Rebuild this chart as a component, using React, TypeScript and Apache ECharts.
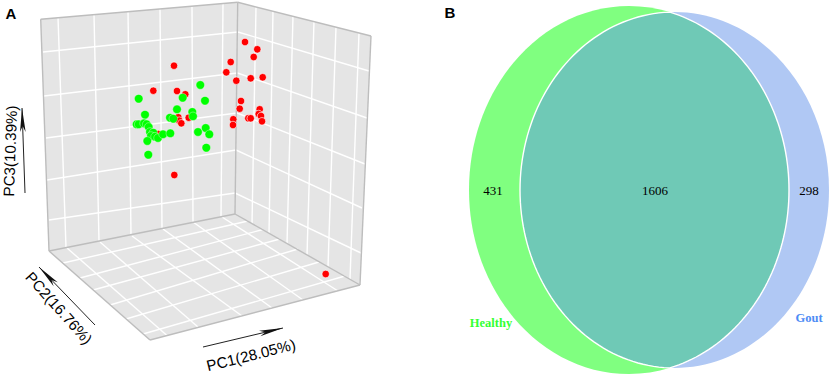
import React, { useEffect, useRef } from "react";
import * as echarts from "echarts";

const WIDTH = 831;
const HEIGHT = 375;

// Panel A: points, in page-plane units
const redPoints = [
  [174, 65.7], [153.3, 90.7], [177, 91], [185.3, 94.3], [178.3, 117.3], [179.3, 120.7], [181.3, 123.3],
  [188.7, 117.7], [174.3, 175], [158.3, 134], [245, 42], [257.3, 49.3], [253.7, 57], [230.7, 62],
  [226.3, 72.3], [236.3, 80.7], [250.7, 78.3], [262.7, 77.3], [241, 101], [239.7, 108.7], [259.7, 109.3],
  [258.7, 114], [261, 116], [262, 121.3], [248.3, 118.3], [250.7, 118.3], [233.3, 119.3], [233, 125],
  [325.7, 274],
];
const greenPoints = [
  [200.3, 85], [138.7, 98.7], [182.7, 97.7], [205, 100.7], [177, 109.3], [145, 114.7], [192.3, 112],
  [193, 116.3], [170, 117.7], [173.3, 118.7], [136.7, 124.3], [138.7, 124.3], [144, 123.3], [146.7, 124.3],
  [148.7, 127], [150, 132], [153.3, 132.7], [151, 136], [155, 136.7], [158, 138], [163, 134.3], [170.3, 133.3],
  [147.3, 141], [148.3, 154.7], [198, 132], [205.7, 128], [209.3, 134.3], [206.3, 147.7],
];

// Panel A: box walls and lattice
const wallPanels = [
  [[40.7, 19.3], [237.7, 2.3], [235, 214], [49, 251]],
  [[237.7, 2.3], [371, 36], [360, 285], [235, 214]],
  [[49, 251], [235, 214], [360, 285], [150, 340]],
];
const latticeLines = [
  // left wall, uprights
  [58, 17.6, 66, 247.6], [94, 14.5, 99, 241], [128, 11.6, 131, 234.7], [160, 8.9, 162, 228.5], [192, 6.2, 193, 222.4], [223, 3.6, 221, 216.8],
  // left wall, rows
  [43, 52, 238, 32], [44, 96, 237.5, 73], [46, 138, 237, 113], [47, 180, 236, 150], [49, 220, 235, 193],
  // right wall, uprights
  [256, 7, 252, 224], [273, 11, 269, 233], [293, 16, 287, 243.5], [314, 21, 307, 255], [336, 27, 328, 267], [359, 33, 350, 279],
  // right wall, rows
  [238, 32, 369, 71], [237.5, 73, 367, 118], [237, 113, 365, 164], [236, 150, 362, 208], [235, 193, 361, 253],
  // floor, toward the front edge
  [67, 248, 167, 335.5], [100, 242, 198, 327], [132, 236, 242, 316], [163, 229, 272, 308], [193, 222, 303, 300], [222, 217, 338, 291],
  // floor, across
  [63, 263, 248, 221], [80, 278, 263, 229.5], [93, 290, 280, 239], [110, 305, 298, 249], [126, 319, 319, 262], [143, 334, 345, 276],
];
const boxEdges = [
  [40.7, 19.3, 237.7, 2.3], [237.7, 2.3, 371, 36], [40.7, 19.3, 49, 251], [237.7, 2.3, 235, 214], [371, 36, 360, 285],
  [49, 251, 235, 214], [235, 214, 360, 285], [49, 251, 150, 340], [150, 340, 360, 285],
];
const axisArrows = [
  [25, 193, 22, 108],
  [95, 325, 39, 267],
  [203, 347, 283, 328],
];
const axisTitles = ["PC1(28.05%)", "PC2(16.76%)", "PC3(10.39%)"];

// Panel B
const vennCounts = [431, 1606, 298];
const vennNames = ["Healthy", "Gout"];
const healthyEllipse = { cx: 629, cy: 190, rx: 160, ry: 184 };
const goutEllipse = { cx: 674.5, cy: 190, rx: 154.5, ry: 178 };

function lensPoints() {
  const tipDy = 177.9;
  const pts: number[][] = [];
  const a0 = Math.asin(tipDy / healthyEllipse.ry);
  const b0 = Math.asin(tipDy / goutEllipse.ry);
  const N = 90;
  for (let i = 0; i <= N; i++) {
    const t = -a0 + (2 * a0 * i) / N;
    pts.push([healthyEllipse.cx + healthyEllipse.rx * Math.cos(t), healthyEllipse.cy + healthyEllipse.ry * Math.sin(t)]);
  }
  for (let i = 1; i < N; i++) {
    const t = Math.PI - b0 + (2 * b0 * i) / N;
    pts.push([goutEllipse.cx + goutEllipse.rx * Math.cos(t), goutEllipse.cy + goutEllipse.ry * Math.sin(t)]);
  }
  return pts;
}

function segmentSeries(name: string, rows: number[][], color: string, width: number, z: number) {
  return {
    type: "custom",
    name,
    silent: true,
    z,
    coordinateSystem: "cartesian2d",
    data: rows,
    renderItem: (_: any, api: any) => {
      const a = api.coord([api.value(0), api.value(1)]);
      const b = api.coord([api.value(2), api.value(3)]);
      return { type: "line", shape: { x1: a[0], y1: a[1], x2: b[0], y2: b[1] }, style: { stroke: color, lineWidth: width } };
    },
  };
}

function polygonSeries(name: string, polys: number[][][], fills: string[], strokes: (string | null)[], lineWidth: number, z: number) {
  return {
    type: "custom",
    name,
    silent: true,
    z,
    coordinateSystem: "cartesian2d",
    data: polys.map((_, i) => [i, 0]),
    renderItem: (params: any, api: any) => {
      const i = params.dataIndex;
      return {
        type: "polygon",
        shape: { points: polys[i].map((p) => api.coord(p)) },
        style: { fill: fills[i], stroke: strokes[i] || undefined, lineWidth },
      };
    },
  };
}

function ellipseSeries(name: string, e: typeof healthyEllipse, fill: string, z: number) {
  return {
    type: "custom",
    name,
    silent: true,
    z,
    coordinateSystem: "cartesian2d",
    data: [[e.cx, e.cy]],
    renderItem: (_: any, api: any) => {
      const c = api.coord([api.value(0), api.value(1)]);
      return { type: "ellipse", shape: { cx: c[0], cy: c[1], rx: e.rx, ry: e.ry }, style: { fill } };
    },
  };
}

function arrowSeries() {
  return {
    type: "custom",
    name: "axis arrows",
    silent: true,
    z: 4,
    coordinateSystem: "cartesian2d",
    data: axisArrows,
    renderItem: (_: any, api: any) => {
      const a = api.coord([api.value(0), api.value(1)]);
      const b = api.coord([api.value(2), api.value(3)]);
      const d = Math.hypot(b[0] - a[0], b[1] - a[1]);
      const ux = (b[0] - a[0]) / d;
      const uy = (b[1] - a[1]) / d;
      const len = 24;
      const half = 2.8;
      const back = [b[0] - ux * len, b[1] - uy * len];
      const notch = [b[0] - ux * (len - 6), b[1] - uy * (len - 6)];
      return {
        type: "group",
        children: [
          { type: "line", shape: { x1: a[0], y1: a[1], x2: b[0], y2: b[1] }, style: { stroke: "#222", lineWidth: 1 } },
          {
            type: "polygon",
            shape: { points: [b, [back[0] - uy * half, back[1] + ux * half], notch, [back[0] + uy * half, back[1] - ux * half]] },
            style: { fill: "#111" },
          },
        ],
      };
    },
  };
}

const text = (t: string, x: number, y: number, font: string, fill: string, rotationDeg = 0) => ({
  type: "text",
  x,
  y,
  rotation: (rotationDeg * Math.PI) / 180,
  z: 10,
  silent: true,
  style: { text: t, font, fill, align: "center", verticalAlign: "middle" },
});

export default function App() {
  const ref = useRef<HTMLDivElement>(null);
  useEffect(() => {
    const chart = echarts.init(ref.current!, null, { renderer: "svg" });
    const sans = '"Liberation Sans", Arial, sans-serif';
    const serif = '"Liberation Serif", "Times New Roman", serif';
    chart.setOption({
      animation: false,
      backgroundColor: "#fff",
      grid: { left: 0, right: 0, top: 0, bottom: 0, containLabel: false },
      xAxis: { type: "value", min: 0, max: WIDTH, show: false },
      yAxis: { type: "value", min: 0, max: HEIGHT, inverse: true, show: false },
      tooltip: { show: false },
      series: [
        polygonSeries("walls", wallPanels, ["#e5e5e5", "#e5e5e5", "#e5e5e5"], [null, null, null], 0, 1),
        segmentSeries("lattice", latticeLines, "#ffffff", 1.4, 2),
        segmentSeries("box edges", boxEdges, "#bdbdbd", 1.4, 3),
        arrowSeries(),
        ellipseSeries("Healthy", healthyEllipse, "#80ff80", 1),
        ellipseSeries("Gout", goutEllipse, "#b0c8f4", 2),
        polygonSeries("overlap", [lensPoints()], ["#6fc9b6"], ["#ffffff"], 1.4, 3),
        {
          type: "scatter",
          name: "Gout samples",
          z: 5,
          data: redPoints,
          symbol: "circle",
          symbolSize: 7.5,
          itemStyle: { color: "#ff0000", borderColor: "rgba(255,255,255,0.8)", borderWidth: 0.8, opacity: 1 },
          silent: true,
        },
        {
          type: "scatter",
          name: "Healthy samples",
          z: 6,
          data: greenPoints,
          symbol: "circle",
          symbolSize: 8.5,
          itemStyle: { color: "#00ff00", borderColor: "rgba(255,255,255,0.6)", borderWidth: 0.6, opacity: 1 },
          silent: true,
        },
      ],
      graphic: [
        text("A", 11, 13, `bold 15px ${sans}`, "#000"),
        text("B", 450, 12, `bold 15px ${sans}`, "#000"),
        text(axisTitles[2], 10, 151, `15.2px ${sans}`, "#000", 88),
        text(axisTitles[1], 59, 308, `15.2px ${sans}`, "#000", -48),
        text(axisTitles[0], 251, 355, `15.2px ${sans}`, "#000", 14),
        text(String(vennCounts[0]), 493, 190, `13px ${serif}`, "#000"),
        text(String(vennCounts[1]), 655, 190, `13px ${serif}`, "#000"),
        text(String(vennCounts[2]), 809, 190, `13px ${serif}`, "#000"),
        text(vennNames[0], 491, 323, `bold 12.5px ${serif}`, "#33ff33"),
        text(vennNames[1], 809, 318, `bold 12.5px ${serif}`, "#4d8cf5"),
      ],
    });
    return () => chart.dispose();
  }, []);
  return <div ref={ref} style={{ position: "absolute", left: 0, top: 0, width: WIDTH, height: HEIGHT }} />;
}
